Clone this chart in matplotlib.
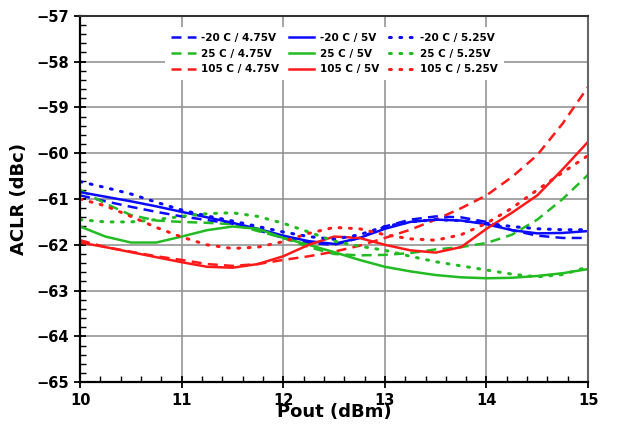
import matplotlib
matplotlib.use('Agg')
from matplotlib import pyplot as plt
from matplotlib.ticker import MultipleLocator
import numpy as np

pout = [10, 10.25, 10.5, 10.75, 11, 11.25, 11.5, 11.75, 12, 12.25, 12.5,
        12.75, 13, 13.25, 13.5, 13.75, 14, 14.25, 14.5, 14.75, 15]

# -20 C
m20_475 = [-60.92, -61.05, -61.17, -61.28, -61.38, -61.46, -61.54, -61.68, -61.85, -61.96, -62.0,
           -61.85, -61.6, -61.45, -61.38, -61.4, -61.5, -61.68, -61.8, -61.85, -61.85]
m20_5 = [-60.85, -60.95, -61.05, -61.16, -61.28, -61.4, -61.52, -61.65, -61.8, -61.92, -61.98,
         -61.85, -61.65, -61.5, -61.45, -61.47, -61.55, -61.68, -61.75, -61.74, -61.7]
m20_525 = [-60.62, -60.75, -60.89, -61.07, -61.24, -61.37, -61.48, -61.6, -61.72, -61.82, -61.88,
           -61.78, -61.6, -61.5, -61.45, -61.47, -61.53, -61.6, -61.65, -61.67, -61.67]

# 25 C
t25_475 = [-60.8, -61.1, -61.35, -61.47, -61.5, -61.52, -61.55, -61.7, -61.85, -62.05, -62.2,
           -62.23, -62.22, -62.18, -62.1, -62.05, -61.96, -61.78, -61.45, -61.0, -60.47]
t25_5 = [-61.6, -61.82, -61.95, -61.95, -61.82, -61.68, -61.6, -61.65, -61.85, -62.0, -62.16,
         -62.33, -62.48, -62.58, -62.66, -62.71, -62.73, -62.72, -62.68, -62.62, -62.53]
t25_525 = [-61.45, -61.5, -61.5, -61.45, -61.38, -61.32, -61.3, -61.38, -61.53, -61.72, -61.92,
           -62.03, -62.12, -62.25, -62.37, -62.46, -62.55, -62.64, -62.7, -62.65, -62.48]

# 105 C
t105_475 = [-61.9, -62.05, -62.15, -62.25, -62.33, -62.42, -62.46, -62.42, -62.33, -62.25, -62.15,
            -62.02, -61.85, -61.67, -61.45, -61.2, -60.92, -60.52, -60.04, -59.35, -58.55]
t105_5 = [-61.95, -62.05, -62.16, -62.27, -62.38, -62.48, -62.5, -62.42, -62.25, -62.0, -61.82,
          -61.85, -62.0, -62.12, -62.17, -62.05, -61.65, -61.3, -60.92, -60.35, -59.75]
t105_525 = [-61.0, -61.15, -61.38, -61.62, -61.83, -62.0, -62.08, -62.05, -61.93, -61.75, -61.62,
            -61.65, -61.78, -61.87, -61.9, -61.78, -61.53, -61.2, -60.8, -60.42, -60.05]

blue = '#0a0aff'
green = '#22bb22'
red = '#ff1a1a'
dash = (0, (4, 2.5))
dot = (0, (0.6, 2.8))

fig = plt.figure(figsize=(6.21, 4.28), dpi=100)
ax = fig.add_axes([0.129, 0.107, 0.818, 0.856])

lw = 1.8
ax.plot(pout, m20_475, color=blue, ls=dash, lw=lw, label='-20 C / 4.75V')
ax.plot(pout, t25_475, color=green, ls=dash, lw=lw, label='25 C / 4.75V')
ax.plot(pout, t105_475, color=red, ls=dash, lw=lw, label='105 C / 4.75V')
ax.plot(pout, m20_5, color=blue, ls='-', lw=lw, label='-20 C / 5V')
ax.plot(pout, t25_5, color=green, ls='-', lw=lw, label='25 C / 5V')
ax.plot(pout, t105_5, color=red, ls='-', lw=lw, label='105 C / 5V')
ax.plot(pout, m20_525, color=blue, ls=dot, lw=2.2, dash_capstyle='round', label='-20 C / 5.25V')
ax.plot(pout, t25_525, color=green, ls=dot, lw=2.2, dash_capstyle='round', label='25 C / 5.25V')
ax.plot(pout, t105_525, color=red, ls=dot, lw=2.2, dash_capstyle='round', label='105 C / 5.25V')

ax.set_xlim(10, 15)
ax.set_ylim(-65, -57)
ax.xaxis.set_major_locator(MultipleLocator(1))
ax.xaxis.set_minor_locator(MultipleLocator(0.2))
ax.yaxis.set_major_locator(MultipleLocator(1))
ax.yaxis.set_minor_locator(MultipleLocator(0.2))
ax.grid(True, which='major', color='#8c8c8c', lw=1.1)
ax.set_axisbelow(True)

ax.tick_params(which='major', direction='inout', length=9, width=1.3, labelsize=10.5)
ax.tick_params(which='minor', direction='in', length=4, width=1)
for lab in ax.get_xticklabels() + ax.get_yticklabels():
    lab.set_fontweight('bold')

for s in ['left', 'bottom']:
    ax.spines[s].set_linewidth(1.6)
    ax.spines[s].set_color('black')
ax.spines['top'].set_color('#333333')
ax.spines['top'].set_linewidth(1.5)
ax.spines['right'].set_color('#666666')
ax.spines['right'].set_linewidth(1.5)

ax.set_ylabel('ACLR (dBc)', fontsize=13, fontweight='bold', labelpad=6)
ax.set_xlabel('Pout (dBm)', fontsize=13, fontweight='bold', labelpad=-4)

leg = ax.legend(loc='upper center', bbox_to_anchor=(0.5, 0.985), ncol=3,
                prop={'size': 7.5, 'weight': 'bold'}, frameon=True, fancybox=False,
                handlelength=2.4, columnspacing=1.0, handletextpad=0.5, labelspacing=0.55,
                borderpad=0.6)
leg.get_frame().set_facecolor('white')
leg.get_frame().set_edgecolor('none')
leg.get_frame().set_alpha(1)

fig.savefig('out.png', dpi=100)
